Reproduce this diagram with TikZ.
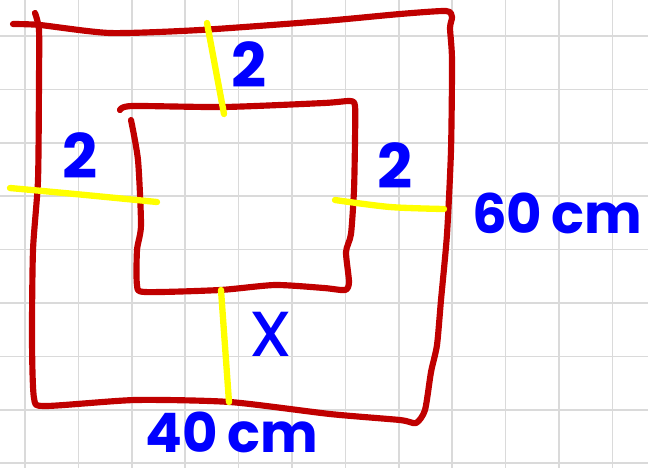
\documentclass[tikz,border=0pt]{standalone}
\usepackage{fontspec}
\setmainfont{Poppins}
\usepackage{xcolor}
\usepackage{tikz}

\definecolor{penred}{RGB}{192,0,0}
\definecolor{penyellow}{RGB}{255,255,0}
\definecolor{penblue}{RGB}{0,0,255}
\definecolor{gridgray}{RGB}{218,218,218}

\begin{document}
\begin{tikzpicture}[x=0.02cm, y=-0.02cm,
        redline/.style={draw=penred, line width=3.5pt, line cap=round, line join=round},
        yellowline/.style={draw=penyellow, line width=3.6pt, line cap=round},
        lbl/.style={text=penblue, font=\fontsize{31}{34}\selectfont\bfseries, inner sep=0pt},
        biglbl/.style={lbl, font=\fontsize{35}{38}\selectfont\bfseries}]
        \useasboundingbox (0,0) rectangle (648,468);
        \fill[white] (0,0) rectangle (648,468);

        % squared paper
        \foreach \k in {0,...,11}
            \draw[gridgray, line width=1pt] (25+53.4*\k,0) -- (25+53.4*\k,468);
        \foreach \k in {0,...,8}
            \draw[gridgray, line width=1pt] (0,36+53.4*\k) -- (648,36+53.4*\k);

        % outer frame
        \draw[redline] plot[smooth, tension=0.4] coordinates {(13,24) (40,25) (110,33) (200,30) (324,21) (400,14) (446,11) (452,17) (450,28) (452,60) (451,150) (447,234) (441,300) (437,345) (431,372) (425,410) (416,423) (400,420) (330,414) (230,402) (135,400) (45,406) (34,398) (32,340) (33,250) (38,180) (39,80) (39,30) (35,13)};

        % inner frame
        \draw[redline] plot[smooth, tension=0.4] coordinates {(120,110) (132,106) (224,107) (324,103) (350,101) (355,106) (355,140) (354,190) (351,234) (346,252) (349,282) (345,290) (324,288) (275,285) (220,290) (145,292) (137,285) (137,250) (141,225) (138,160) (131,120)};

        % widths of the border
        \draw[yellowline] (207,23) -- (224,114);
        \draw[yellowline] plot[smooth] coordinates {(10,188) (75,194) (157,202)};
        \draw[yellowline] plot[smooth] coordinates {(335,200) (390,207) (444,209)};
        \draw[yellowline] (221,290) -- (229,402);

        % labels
        \node[biglbl] (wtop) at (249,65) {2};
        \node[biglbl] (wleft) at (80,156) {2};
        \node[biglbl] (wright) at (395,166) {2};
        \node[lbl, font=\fontsize{46}{48}\selectfont\mdseries] (wbottom) at (271,334) {x};
        \node[lbl] (height) at (557,213) {60\,cm};
        \node[lbl] (width) at (232,432) {40\,cm};
\end{tikzpicture}
\end{document}
